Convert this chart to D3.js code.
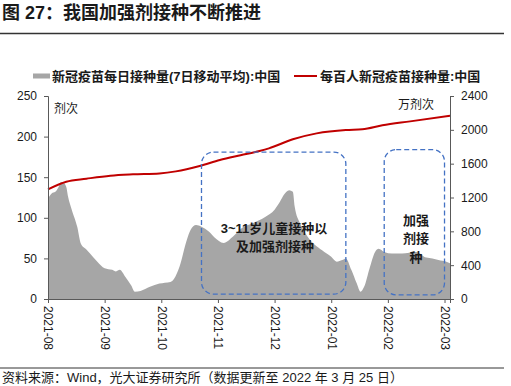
<!DOCTYPE html>
<html><head><meta charset="utf-8">
<script src="https://cdn.jsdelivr.net/npm/d3@7"></script>
<style>
body{margin:0;background:#fff;}
svg{display:block;font-family:"Liberation Sans","Noto Sans CJK SC",sans-serif;}
</style></head>
<body>
<svg id="c" width="511" height="386"></svg>
<script>
const monthLabels = ["2021-08","2021-09","2021-10","2021-11","2021-12","2022-01","2022-02","2022-03"];
const leftTicks = [0,50,100,150,200,250];
const rightTicks = [0,400,800,1200,1600,2000,2400];

// 新冠疫苗每日接种量(7日移动平均):中国 (left axis, 剂次)
const dailyDates = ["2021-08-01","2021-08-03","2021-08-05","2021-08-07","2021-08-08","2021-08-09","2021-08-11","2021-08-12","2021-08-14","2021-08-17","2021-08-19","2021-08-22","2021-08-24","2021-08-28",
"2021-09-01","2021-09-05","2021-09-07","2021-09-09","2021-09-12","2021-09-15","2021-09-17","2021-09-20","2021-09-25","2021-09-30",
"2021-10-06","2021-10-08","2021-10-11","2021-10-15","2021-10-17","2021-10-20","2021-10-23","2021-10-27","2021-10-30",
"2021-11-04","2021-11-09","2021-11-14","2021-11-19","2021-11-26",
"2021-12-01","2021-12-04","2021-12-06","2021-12-09","2021-12-11","2021-12-12","2021-12-15","2021-12-19","2021-12-27",
"2022-01-01","2022-01-04","2022-01-07","2022-01-09","2022-01-12","2022-01-15","2022-01-17","2022-01-19","2022-01-22","2022-01-25","2022-01-27","2022-01-30",
"2022-02-03","2022-02-08","2022-02-15","2022-02-20","2022-02-23","2022-02-26","2022-03-02","2022-03-04"];
const dailyValues = [124,130,132,139,144,144,138,126,110,89,68,61,56,46,
38,36,34,36,27,17,9,10,15,19,
21,25,40,73,85,91,89,83,76,
69,77,88,93,101,
110,120,128,134,132,114,93,77,60,
52,46,48,50,36,19,9,15,38,58,62,58,
56,56,58,51,50,48,46,44];

// 每百人新冠疫苗接种量:中国 (right axis, 万剂次)
const cumDates = ["2021-08-01","2021-08-11","2021-08-22","2021-09-04","2021-09-16","2021-09-30","2021-10-09","2021-10-22","2021-11-02","2021-11-13","2021-11-23","2021-11-28","2021-12-11","2021-12-24","2022-01-09","2022-01-18","2022-01-29","2022-02-12","2022-03-04"];
const cumValues = [1297,1387,1422,1458,1474,1485,1509,1572,1643,1700,1750,1781,1888,1958,1998,2006,2053,2100,2167];

const parse = d3.timeParse("%Y-%m-%d");
function monthPos(s){
  const d = parse(s);
  const m = (d.getFullYear()-2021)*12 + d.getMonth() - 7;
  const dim = new Date(d.getFullYear(), d.getMonth()+1, 0).getDate();
  return m + (d.getDate()-1)/dim;
}

const svg = d3.select("#c");
const L = 48, R = 450, T = 96, B = 299;
const x = d3.scaleLinear().domain([0, monthPos("2022-03-04")]).range([L, R]);
const yL = d3.scaleLinear().domain([0,250]).range([B, T]);
const yR = d3.scaleLinear().domain([0,2400]).range([B, T]);
const axisColor = "#595959";

// title
svg.append("text").attr("x",2).attr("y",19).attr("font-size",18).attr("font-weight","bold")
  .attr("fill","#1a1a1a").text("图 27：我国加强剂接种不断推进");
svg.append("line").attr("x1",0).attr("x2",504).attr("y1",33.5).attr("y2",33.5).attr("stroke","#333").attr("stroke-width",1.5);

// legend
svg.append("rect").attr("x",33).attr("y",73.5).attr("width",17).attr("height",5).attr("fill","#a6a6a6");
svg.append("text").attr("x",52).attr("y",80.5).attr("font-size",13).attr("font-weight","bold").attr("fill","#1a1a1a")
  .text("新冠疫苗每日接种量(7日移动平均):中国");
svg.append("line").attr("x1",294).attr("x2",317).attr("y1",76).attr("y2",76).attr("stroke","#c00000").attr("stroke-width",2);
svg.append("text").attr("x",320).attr("y",80.5).attr("font-size",13).attr("font-weight","bold").attr("fill","#1a1a1a")
  .text("每百人新冠疫苗接种量:中国");

// area
const dailyData = dailyDates.map((d,i)=>({p:monthPos(d), v:dailyValues[i]}));
svg.append("path").datum(dailyData)
  .attr("d", d3.area().x(d=>x(d.p)).y0(B).y1(d=>yL(d.v)).curve(d3.curveMonotoneX))
  .attr("fill","#a6a6a6");

// line
const cumData = cumDates.map((d,i)=>({p:monthPos(d), v:cumValues[i]}));
svg.append("path").datum(cumData)
  .attr("d", d3.line().x(d=>x(d.p)).y(d=>yR(d.v)).curve(d3.curveMonotoneX))
  .attr("fill","none").attr("stroke","#c00000").attr("stroke-width",2);

// axes
const gl = svg.append("g").attr("transform",`translate(${L},0)`)
  .call(d3.axisLeft(yL).tickValues(leftTicks).tickFormat(d3.format("d")).tickSize(4).tickPadding(7));
const gr = svg.append("g").attr("transform",`translate(${R},0)`)
  .call(d3.axisRight(yR).tickValues(rightTicks).tickFormat(d3.format("d")).tickSize(4).tickPadding(7));
const gb = svg.append("g").attr("transform",`translate(0,${B})`)
  .call(d3.axisBottom(x).tickValues(d3.range(monthLabels.length)).tickFormat(i=>monthLabels[i]).tickSize(4));
[gl,gr,gb].forEach(g=>{
  g.selectAll("path.domain").attr("stroke",axisColor);
  g.selectAll(".tick line").attr("stroke",axisColor);
  g.selectAll("text").attr("font-size",12).attr("fill","#1a1a1a").attr("font-family","Liberation Sans, sans-serif");
});
gb.selectAll(".tick text").attr("transform","rotate(90)").attr("text-anchor","start")
  .attr("x",7).attr("y",0).attr("dy","0.35em");

// unit labels
svg.append("text").attr("x",54).attr("y",113).attr("font-size",12).attr("fill","#1a1a1a").text("剂次");
svg.append("text").attr("x",398).attr("y",109).attr("font-size",12).attr("fill","#1a1a1a").text("万剂次");

// annotation boxes
const boxes = [
  {x0:"2021-10-23", x1:"2022-01-09", v0:6, v1:181},
  {x0:"2022-01-30", x1:"2022-03-01", v0:5, v1:184}
];
boxes.forEach(b=>{
  const X0 = x(monthPos(b.x0)), X1 = x(monthPos(b.x1));
  svg.append("rect").attr("x",X0).attr("y",yL(b.v1)).attr("width",X1-X0).attr("height",yL(b.v0)-yL(b.v1))
    .attr("rx",12).attr("ry",12).attr("fill","none").attr("stroke","#4472c4").attr("stroke-width",1.3)
    .attr("stroke-dasharray","5,3");
});
const ann = svg.append("g").attr("font-size",13).attr("font-weight","bold").attr("fill","#1a1a1a").attr("text-anchor","middle");
ann.append("text").attr("x",274).attr("y",233).text("3~11岁儿童接种以");
ann.append("text").attr("x",275).attr("y",251).text("及加强剂接种");
ann.append("text").attr("x",416).attr("y",225).text("加强");
ann.append("text").attr("x",416).attr("y",243).text("剂接");
ann.append("text").attr("x",416).attr("y",262).text("种");

// footer
svg.append("line").attr("x1",0).attr("x2",504).attr("y1",368).attr("y2",368).attr("stroke","#333").attr("stroke-width",1);
svg.append("text").attr("x",2).attr("y",382).attr("font-size",13).attr("fill","#1a1a1a")
  .text("资料来源：Wind，光大证券研究所（数据更新至 2022 年 3 月 25 日）");
</script>
</body></html>
